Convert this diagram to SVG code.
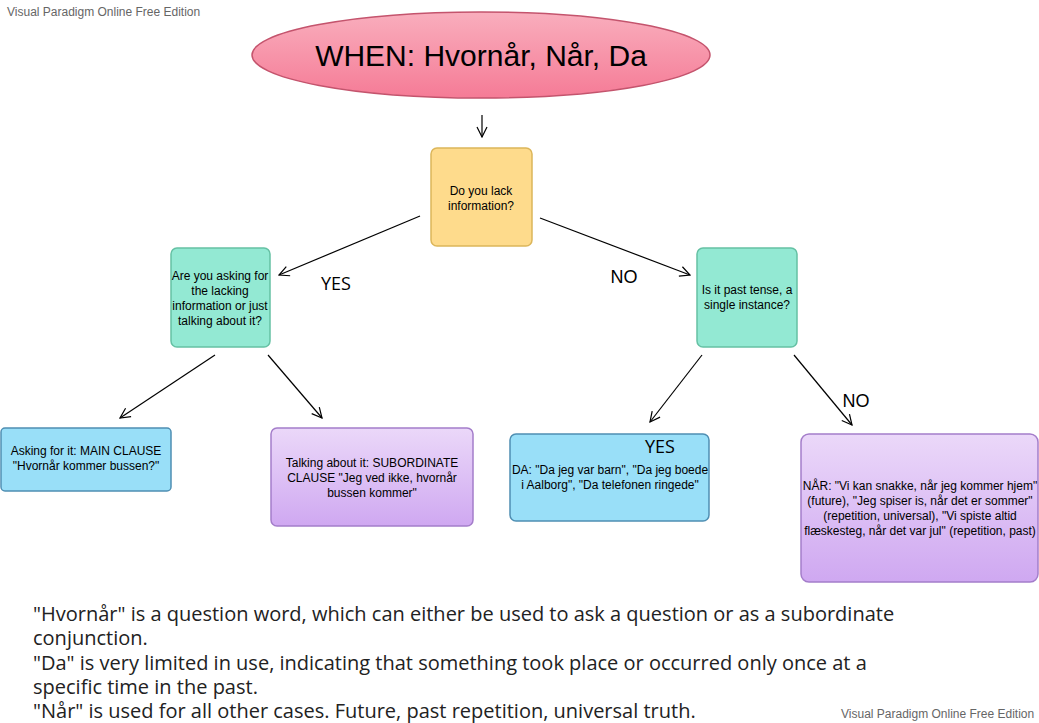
<svg xmlns="http://www.w3.org/2000/svg" width="1039" height="723" viewBox="0 0 1039 723">
<defs>
<linearGradient id="gPink" x1="0" y1="0" x2="0" y2="1"><stop offset="0" stop-color="#f9aebd"/><stop offset="1" stop-color="#f57b96"/></linearGradient>
<linearGradient id="gPurple" x1="0" y1="0" x2="0" y2="1"><stop offset="0" stop-color="#ebd8f9"/><stop offset="1" stop-color="#cfa8f1"/></linearGradient>
<marker id="arr" viewBox="0 0 12 12" refX="11" refY="6" markerWidth="12" markerHeight="12" markerUnits="userSpaceOnUse" orient="auto"><path d="M1,1 L11,6 L1,11" fill="none" stroke="#000" stroke-width="1.2"/></marker>
</defs>
<style>
.wm{font-family:"Liberation Sans",Arial,sans-serif;font-size:12px;fill:#666}
.t{font-family:"Liberation Sans",Arial,sans-serif;font-size:12px;fill:#000;text-anchor:middle}
.lbl{font-family:"Open Sans","Liberation Sans",sans-serif;font-size:18px;fill:#000;text-anchor:middle}
.para{font-family:"Open Sans","Liberation Sans",sans-serif;font-size:20px;fill:#222}
.yellow{fill:#fedb8c;stroke:#dcb65a;stroke-width:1.5}
.green{fill:#93e9d3;stroke:#65c1a4;stroke-width:1.5}
.blue{fill:#99dff8;stroke:#4f8fb3;stroke-width:1.5}
.purple{fill:url(#gPurple);stroke:#a47dca;stroke-width:1.5}
.conn line{stroke:#000;stroke-width:1.2;marker-end:url(#arr)}
</style>
<rect width="1039" height="723" fill="#fff"/>
<text class="wm" x="7" y="16">Visual Paradigm Online Free Edition</text>
<text class="wm" x="841" y="718">Visual Paradigm Online Free Edition</text>

<g id="start">
<ellipse cx="481" cy="55" rx="229" ry="43" fill="url(#gPink)" stroke="#c4546d" stroke-width="1.5"/>
<text x="481" y="66" font-family="'Liberation Sans',Arial,sans-serif" font-size="30" text-anchor="middle">WHEN: Hvornår, Når, Da</text>
</g>

<g id="q1">
<rect class="yellow" x="431" y="148" width="101" height="98" rx="6"/>
<text class="t" x="481" y="195">Do you lack</text>
<text class="t" x="481" y="210">information?</text>
</g>

<g id="q2">
<rect class="green" x="171" y="248" width="99" height="99" rx="6"/>
<text class="t" x="220" y="280">Are you asking for</text>
<text class="t" x="220" y="295">the lacking</text>
<text class="t" x="220" y="310">information or just</text>
<text class="t" x="220" y="325">talking about it?</text>
</g>

<g id="q3">
<rect class="green" x="697" y="248" width="100" height="99" rx="6"/>
<text class="t" x="747" y="294">Is it past tense, a</text>
<text class="t" x="747" y="309">single instance?</text>
</g>

<g id="main">
<rect class="blue" x="1" y="428" width="170" height="63" rx="4"/>
<text class="t" x="86" y="455">Asking for it: MAIN CLAUSE</text>
<text class="t" x="86" y="470">"Hvornår kommer bussen?"</text>
</g>

<g id="sub">
<rect class="purple" x="271" y="428" width="202" height="98" rx="6"/>
<text class="t" x="372" y="467">Talking about it: SUBORDINATE</text>
<text class="t" x="372" y="482">CLAUSE "Jeg ved ikke, hvornår</text>
<text class="t" x="372" y="497">bussen kommer"</text>
</g>

<g id="da">
<rect class="blue" x="510" y="434" width="199" height="87" rx="6"/>
<text class="lbl" x="660" y="453">YES</text>
<text class="t" x="610" y="474">DA: "Da jeg var barn", "Da jeg boede</text>
<text class="t" x="610" y="489">i Aalborg", "Da telefonen ringede"</text>
</g>

<g id="naar">
<rect class="purple" x="801" y="434" width="237" height="148" rx="8"/>
<text class="t" x="920" y="490">NÅR: "Vi kan snakke, når jeg kommer hjem"</text>
<text class="t" x="920" y="505">(future), "Jeg spiser is, når det er sommer"</text>
<text class="t" x="920" y="520">(repetition, universal), "Vi spiste altid</text>
<text class="t" x="920" y="535">flæskesteg, når det var jul" (repetition, past)</text>
</g>

<g id="connectors" class="conn">
<line x1="482" y1="115" x2="482" y2="137"/>
<line x1="420" y1="216" x2="279" y2="275"/>
<line x1="540" y1="218" x2="690" y2="275"/>
<line x1="215" y1="355" x2="120" y2="418"/>
<line x1="268" y1="355" x2="322" y2="418"/>
<line x1="702" y1="355" x2="650" y2="422"/>
<line x1="794" y1="355" x2="852" y2="425"/>
</g>

<g id="labels">
<text class="lbl" x="336" y="290">YES</text>
<text x="624" y="283" font-family="'Liberation Sans',Arial,sans-serif" font-size="18" text-anchor="middle">NO</text>
<text x="856" y="407" font-family="'Liberation Sans',Arial,sans-serif" font-size="18" text-anchor="middle">NO</text>
</g>

<g id="note">
<text class="para" x="33" y="621">"Hvornår" is a question word, which can either be used to ask a question or as a subordinate</text>
<text class="para" x="33" y="645">conjunction.</text>
<text class="para" x="33" y="670">"Da" is very limited in use, indicating that something took place or occurred only once at a</text>
<text class="para" x="33" y="694">specific time in the past.</text>
<text class="para" x="33" y="718">"Når" is used for all other cases. Future, past repetition, universal truth.</text>
</g>
</svg>
